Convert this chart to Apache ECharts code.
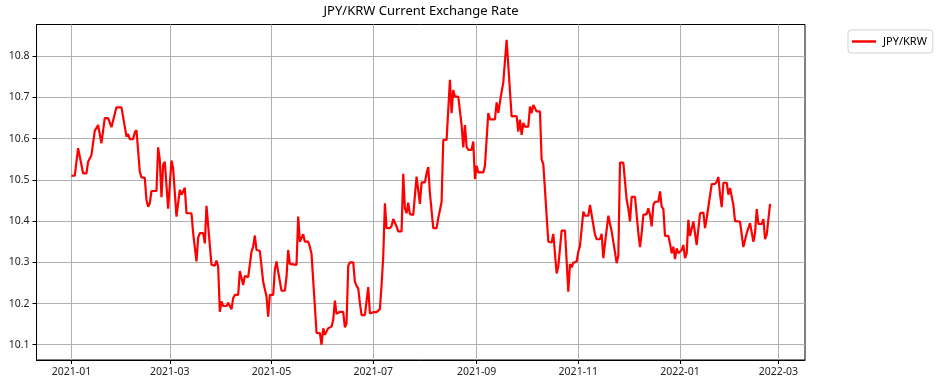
<!DOCTYPE html>
<html>
<head>
<meta charset="utf-8">
<script src="https://cdn.jsdelivr.net/npm/echarts@6/dist/echarts.min.js"></script>
<style>html,body{margin:0;padding:0;background:#fff}#c{width:939px;height:386px}</style>
</head>
<body>
<div id="c"></div>
<script>
// Series start date; dayOffsets are days after this date.
const startDate = [2021, 0, 1];
const dayOffsets = [
0,2,4,7,9,10,12,14,15,16,18,20,22,24,25,27,30,33,34,35,37,38,39,41,42,44,45,46,47,48,51,52,53,54,55,56,57,58,60,61,63,64,65,66,68,69,72,73,75,76,77,79,80,81,82,84,86,87,88,89,90,91,93,94,96,97,98,100,101,102,103,104,106,108,109,110,111,113,114,115,117,118,119,121,122,123,124,126,128,129,130,131,132,135,136,137,139,140,142,143,144,147,149,150,151,152,154,156,157,158,159,160,161,163,164,165,166,167,169,170,171,172,173,174,176,178,179,180,181,183,185,186,187,188,189,191,192,193,195,196,198,199,200,201,202,203,205,207,209,210,212,213,214,215,217,219,220,222,223,225,227,228,229,230,232,234,235,236,237,238,240,241,242,243,244,247,248,250,251,254,255,256,258,259,260,261,262,264,267,268,269,270,271,272,274,275,276,277,279,281,282,283,286,288,289,291,292,294,296,298,299,300,301,303,304,305,306,307,308,310,311,314,315,317,318,319,320,321,322,323,324,326,327,328,329,331,333,334,335,336,338,340,341,342,343,345,346,347,348,349,350,352,353,354,355,356,358,359,360,361,362,363,364,365,366,367,368,369,370,371,372,373,375,376,377,379,380,381,382,384,386,387,388,389,390,391,393,394,395,396,397,398,401,402,403,404,405,407,408,409,410,411,412,414,415,416,417,419
];
const rates = [
10.51,10.51,10.577,10.516,10.516,10.544,10.56,10.619,10.62,10.633,10.589,10.65,10.65,10.628,10.626,10.676,10.676,10.605,10.611,10.599,10.599,10.615,10.621,10.52,10.506,10.505,10.451,10.435,10.443,10.473,10.473,10.579,10.549,10.458,10.536,10.544,10.544,10.43,10.547,10.528,10.411,10.411,10.476,10.464,10.481,10.419,10.419,10.371,10.302,10.36,10.371,10.371,10.346,10.437,10.437,10.294,10.292,10.304,10.29,10.18,10.205,10.194,10.194,10.202,10.186,10.213,10.221,10.221,10.279,10.282,10.245,10.267,10.264,10.326,10.338,10.365,10.33,10.328,10.29,10.253,10.217,10.168,10.221,10.221,10.282,10.302,10.277,10.231,10.231,10.265,10.33,10.296,10.294,10.294,10.411,10.35,10.368,10.35,10.35,10.338,10.32,10.129,10.128,10.1,10.14,10.124,10.14,10.144,10.16,10.207,10.175,10.178,10.18,10.18,10.142,10.152,10.291,10.3,10.3,10.253,10.243,10.237,10.201,10.172,10.172,10.24,10.176,10.172,10.179,10.179,10.187,10.245,10.314,10.443,10.383,10.383,10.388,10.405,10.387,10.375,10.375,10.515,10.431,10.419,10.445,10.417,10.415,10.508,10.442,10.494,10.494,10.516,10.531,10.468,10.383,10.383,10.407,10.447,10.597,10.597,10.743,10.662,10.718,10.702,10.702,10.633,10.579,10.633,10.58,10.573,10.573,10.593,10.502,10.534,10.518,10.518,10.534,10.662,10.647,10.647,10.688,10.663,10.714,10.736,10.736,10.84,10.84,10.654,10.655,10.617,10.646,10.609,10.638,10.629,10.629,10.678,10.662,10.682,10.666,10.666,10.549,10.539,10.35,10.348,10.369,10.273,10.29,10.377,10.377,10.229,10.296,10.288,10.299,10.302,10.326,10.34,10.342,10.423,10.413,10.413,10.439,10.367,10.356,10.356,10.369,10.31,10.346,10.35,10.413,10.413,10.375,10.324,10.298,10.316,10.542,10.542,10.451,10.431,10.399,10.459,10.459,10.371,10.337,10.371,10.415,10.417,10.431,10.415,10.387,10.439,10.447,10.447,10.472,10.435,10.429,10.364,10.364,10.345,10.322,10.338,10.308,10.334,10.322,10.32,10.33,10.342,10.31,10.322,10.403,10.364,10.364,10.399,10.342,10.345,10.419,10.421,10.383,10.407,10.403,10.49,10.49,10.496,10.507,10.464,10.434,10.493,10.493,10.464,10.48,10.48,10.439,10.4,10.399,10.367,10.337,10.34,10.371,10.395,10.395,10.35,10.371,10.429,10.393,10.393,10.405,10.356,10.367,10.442
];
const xTickLabels = ['2021-01','2021-03','2021-05','2021-07','2021-09','2021-11','2022-01','2022-03'];
const yTickValues = [10.1,10.2,10.3,10.4,10.5,10.6,10.7,10.8];
const seriesName = 'JPY/KRW';
const titleText = 'JPY/KRW Current Exchange Rate';

const DAY = 86400000;
const t0 = Date.UTC(startDate[0], startDate[1], startDate[2]);
const points = dayOffsets.map((d, i) => [d, rates[i]]);
const xTickDays = xTickLabels.map(s => Math.round((Date.UTC(+s.slice(0, 4), +s.slice(5, 7) - 1, 1) - t0) / DAY));
const dayToLabel = d => { const dt = new Date(t0 + d * DAY); return dt.getUTCFullYear() + '-' + String(dt.getUTCMonth() + 1).padStart(2, '0'); };

// matplotlib-style 5% margins
const xSpan = dayOffsets[dayOffsets.length - 1] - dayOffsets[0];
const xMin = dayOffsets[0] - 0.05 * xSpan;
const xMax = dayOffsets[dayOffsets.length - 1] + 0.05 * xSpan;
const yLo = Math.min(...rates), yHi = Math.max(...rates);
const yMin = yLo - 0.05 * (yHi - yLo), yMax = yHi + 0.05 * (yHi - yLo);

const font = 'Noto Sans';
const chart = echarts.init(document.getElementById('c'), null, {renderer: 'canvas'});
chart.setOption({
  animation: false,
  backgroundColor: '#fff',
  title: {
    text: titleText, left: 421, top: 5, padding: 0, textAlign: 'center',
    textStyle: {fontFamily: font, fontSize: 13, fontWeight: 'normal', color: '#000'}
  },
  legend: {
    data: [{name: seriesName, icon: 'rect'}],
    left: 848, top: 30, orient: 'vertical',
    padding: [6, 6, 6, 4], itemWidth: 24, itemHeight: 2.5, itemGap: 6,
    borderColor: '#d0d0d0', borderWidth: 1, borderRadius: 3,
    textStyle: {fontFamily: font, fontSize: 11, color: '#000', padding: [0, 0, 0, 2]}
  },
  grid: {
    left: 36.5, right: 134, top: 24.5, bottom: 26, containLabel: false,
    show: true, borderColor: '#000', borderWidth: 1, backgroundColor: 'transparent'
  },
  xAxis: {
    type: 'value', min: xMin, max: xMax,
    axisLine: {show: true, onZero: false, lineStyle: {color: '#000', width: 1}},
    axisTick: {show: true, inside: false, length: 4, customValues: xTickDays, lineStyle: {color: '#000'}},
    axisLabel: {
      customValues: xTickDays, margin: 7, color: '#222', fontFamily: font, fontSize: 10.5,
      formatter: v => dayToLabel(v)
    },
    splitLine: {show: true, lineStyle: {color: '#b0b0b0', width: 1}}
  },
  yAxis: {
    type: 'value', min: yMin, max: yMax,
    axisLine: {show: true, onZero: false, lineStyle: {color: '#000', width: 1}},
    axisTick: {show: true, inside: false, length: 4, customValues: yTickValues, lineStyle: {color: '#000'}},
    axisLabel: {
      customValues: yTickValues, margin: 7, color: '#222', fontFamily: font, fontSize: 10.5,
      formatter: v => v.toFixed(1)
    },
    splitLine: {show: true, lineStyle: {color: '#b0b0b0', width: 1}}
  },
  series: [{
    name: seriesName, type: 'line', data: points, showSymbol: false, symbol: 'none',
    lineStyle: {color: '#ff0000', width: 2.2}, itemStyle: {color: '#ff0000'},
    clip: true
  }]
});
</script>
</body>
</html>
